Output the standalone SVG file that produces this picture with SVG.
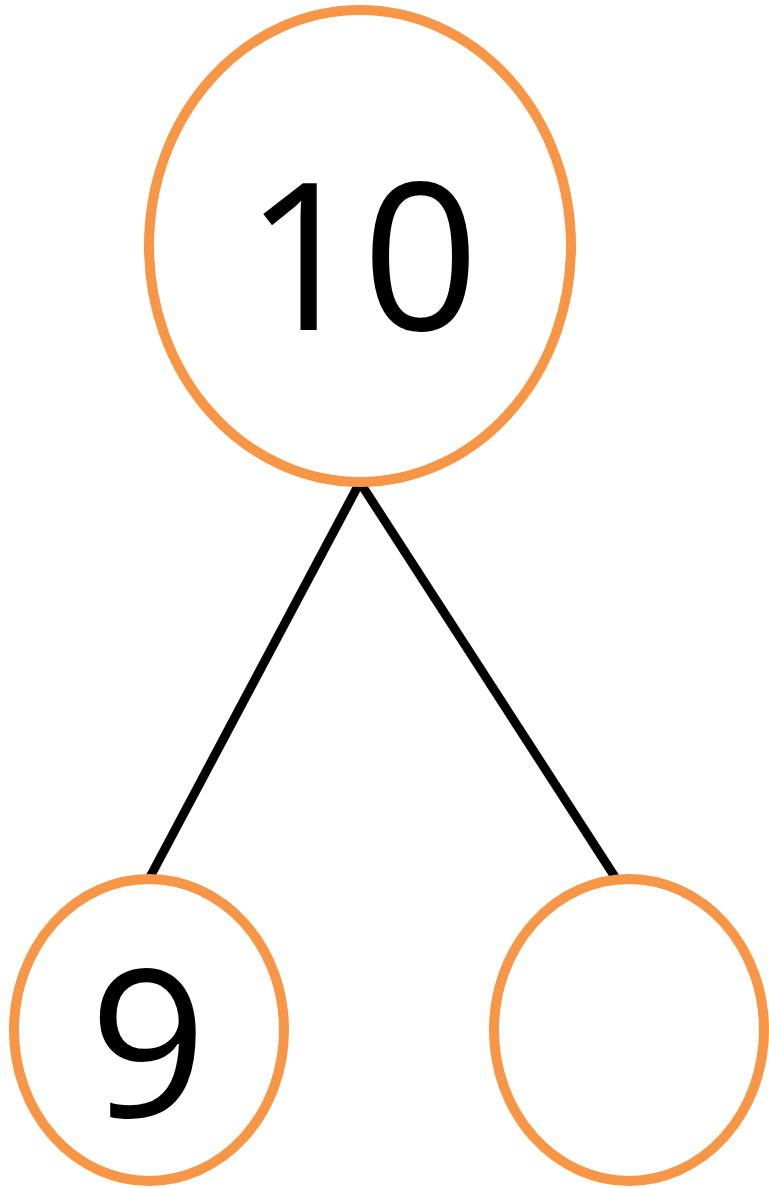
<svg xmlns="http://www.w3.org/2000/svg" width="769" height="1188" viewBox="0 0 769 1188">
<style>
.n{fill:#fff;stroke:#F79646;stroke-width:10}
.e{stroke:#000;stroke-width:9;fill:none}
.t{font-family:"Open Sans","Liberation Sans",sans-serif;font-size:205px;fill:#000;text-anchor:middle}
</style>
<rect width="769" height="1188" fill="#fff"/>
<g id="edges">
<line class="e" x1="359" y1="484" x2="150" y2="877"/>
<line class="e" x1="361" y1="484" x2="615" y2="877"/>
</g>
<g id="node10">
<ellipse class="n" cx="360" cy="246" rx="211" ry="236"/>
<text class="t" x="362" y="330">10</text>
</g>
<g id="node9">
<ellipse class="n" cx="149" cy="1030" rx="135" ry="151"/>
<text class="t" x="148" y="1117">9</text>
</g>
<g id="nodeEmpty">
<ellipse class="n" cx="629" cy="1030" rx="135" ry="151"/>
</g>
</svg>
